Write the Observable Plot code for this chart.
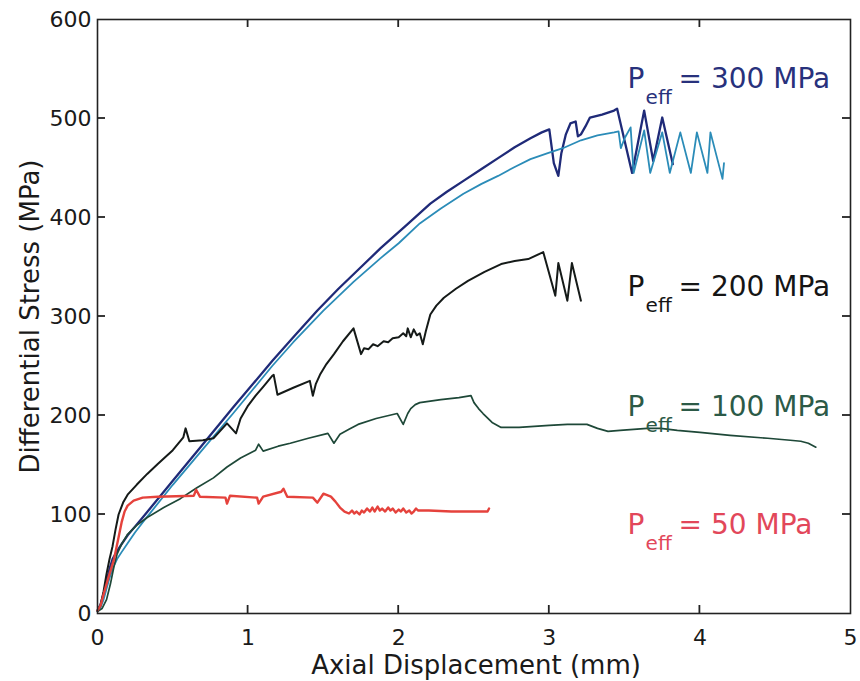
<!DOCTYPE html>
<html><head><meta charset="utf-8">
<script src="https://cdn.jsdelivr.net/npm/d3@7"></script>
<script src="https://cdn.jsdelivr.net/npm/@observablehq/plot@0.6"></script>
<style>body{margin:0;background:#fff}#chart{width:860px;height:681px}</style>
</head><body><div id="chart"></div>
<script>
// ---- data ----
// Peff = 300 MPa, first test (dark navy)
const p300aX = [0,0.02,0.04,0.06,0.08,0.1,0.13,0.16,0.2,0.25,0.3,0.5,0.7,0.9,1.16,1.3,1.46,1.6,1.75,1.88,2.05,2.21,2.32,2.43,2.55,2.66,2.77,2.875,2.95,3.0,3.03,3.06,3.08,3.11,3.14,3.175,3.19,3.21,3.24,3.27,3.35,3.43,3.45,3.55,3.63,3.69,3.75,3.82];
const p300aY = [3,9,20,32,45,55,63,70,79,88,97,134,171,208,255,279,306,328,350,369,392,414,426,437,449,460,471,480,486,489,455,442,465,484,495,497,482,484,492,501,504,508,510,445,508,457,501,454];
// Peff = 300 MPa, second test (teal)
const p300bX = [0,0.02,0.04,0.06,0.08,0.1,0.13,0.16,0.2,0.25,0.3,0.5,0.7,0.9,1.16,1.3,1.5,1.7,1.88,2.0,2.14,2.28,2.43,2.55,2.66,2.77,2.875,2.99,3.09,3.21,3.32,3.43,3.46,3.475,3.5,3.54,3.56,3.63,3.67,3.75,3.80,3.87,3.94,3.98,4.05,4.07,4.15,4.16];
const p300bY = [2,6,14,25,36,45,55,62,71,82,92,130,166,202,250,274,306,335,359,374,394,409,424,434,442,451,459,465,470,478,483,486,487,470,480,491,445,488,445,486,445,486,445,486,445,486,439,455];
// Peff = 200 MPa (black)
const p200X = [0,0.02,0.04,0.06,0.08,0.1,0.12,0.14,0.17,0.2,0.26,0.33,0.4,0.5,0.57,0.585,0.61,0.7,0.77,0.86,0.92,0.95,1.0,1.05,1.1,1.16,1.17,1.195,1.3,1.41,1.43,1.45,1.48,1.52,1.57,1.63,1.7,1.75,1.77,1.8,1.83,1.86,1.9,1.93,1.96,2.0,2.03,2.05,2.06,2.08,2.1,2.12,2.14,2.16,2.18,2.21,2.25,2.3,2.38,2.46,2.57,2.68,2.77,2.86,2.96,3.04,3.06,3.12,3.15,3.21];
const p200Y = [3,8,22,40,55,68,85,100,112,120,130,141,151,165,178,187,174,175,177,192,182,197,210,220,229,240,241,221,228,235,220,232,242,252,262,275,288,262,268,267,272,270,275,274,278,279,283,280,288,279,287,281,283,272,285,302,311,319,328,336,345,353,356,358,365,321,354,316,354,316];
// Peff = 100 MPa (dark green)
const p100X = [0,0.03,0.06,0.086,0.11,0.13,0.16,0.2,0.26,0.33,0.44,0.55,0.66,0.77,0.86,0.95,1.05,1.07,1.1,1.2,1.28,1.4,1.53,1.57,1.61,1.67,1.73,1.85,1.99,2.03,2.06,2.08,2.11,2.14,2.28,2.4,2.48,2.5,2.53,2.56,2.62,2.68,2.8,2.9,3.0,3.12,3.25,3.32,3.39,3.47,3.56,3.65,3.74,3.85,4.0,4.2,4.45,4.6,4.67,4.72,4.77];
const p100Y = [2,5,14,30,48,60,70,80,89,97,107,116,127,137,148,157,165,171,164,169,172,177,182,172,181,186,191,197,202,191,202,207,211,213,216,218,220,213,207,202,193,188,188,189,190,191,191,187,184,185,186,187,187,185,183,180,177,175,174,172,168];
// Peff = 50 MPa (red)
const p50X = [0,0.02,0.04,0.07,0.11,0.14,0.16,0.18,0.2,0.24,0.3,0.4,0.64,0.655,0.68,0.85,0.86,0.88,1.06,1.07,1.1,1.22,1.235,1.26,1.43,1.46,1.5,1.55,1.58,1.61,1.64,1.67,1.69,1.705,1.72,1.74,1.755,1.77,1.79,1.81,1.825,1.84,1.86,1.875,1.89,1.91,1.93,1.945,1.96,1.98,2.0,2.015,2.03,2.05,2.07,2.085,2.10,2.115,2.13,2.2,2.35,2.55,2.59,2.6];
const p50Y = [3,8,19,35,55,77,92,103,109,114,117,118,119,125,118,117,111,119,117,111,118,123,126,118,117,112,121,118,113,107,103,101,104,101,103,100,104,102,106,103,107,103,108,104,106,103,107,104,106,102,105,103,106,102,104,101,103,106,104,104,103,103,103,106];

const xTicks = [0,1,2,3,4,5];
const yTicks = [0,100,200,300,400,500,600];
const labelTexts = ["= 300 MPa","= 200 MPa","= 100 MPa","= 50 MPa"];
const labelSub = "eff";
const xTitle = "Axial Displacement (mm)";
const yTitle = "Differential Stress (MPa)";

// ---- build ----
const series = [
  {name:"300a", x:p300aX, y:p300aY},
  {name:"300b", x:p300bX, y:p300bY},
  {name:"200",  x:p200X,  y:p200Y},
  {name:"100",  x:p100X,  y:p100Y},
  {name:"50",   x:p50X,   y:p50Y}
];
const style = {
  "300a": {stroke:"#1f2a78", w:2.3},
  "300b": {stroke:"#2b8cb8", w:1.8},
  "200":  {stroke:"#151a18", w:2.0},
  "100":  {stroke:"#1e4838", w:1.7},
  "50":   {stroke:"#e5423c", w:2.4}
};
const rows = series.flatMap(s => s.x.map((x,i) => ({series:s.name, x, y:s.y[i]})));
const labels = [
  {text:labelTexts[0], color:"#28317c", y:531},
  {text:labelTexts[1], color:"#151515", y:321},
  {text:labelTexts[2], color:"#2c5a47", y:199},
  {text:labelTexts[3], color:"#e2475a", y:80}
];
const font = "DejaVu Sans";
const lineMarks = series.map(s => Plot.line(rows.filter(r => r.series === s.name), {
  x:"x", y:"y", stroke: style[s.name].stroke, strokeWidth: style[s.name].w, strokeLinejoin:"round", curve:"linear"
}));
const W = 860, H = 681, mL = 97, mR = 10, mT = 19, mB = 68, tk = 8;
const inner = (a) => a.slice(1, -1);
const labelX = 3.52;
const chart = Plot.plot({
  width: W, height: H,
  marginLeft: mL, marginRight: mR, marginTop: mT, marginBottom: mB,
  style: {fontFamily: font, background: "#fff", color: "#222"},
  x: {domain:[0,5]},
  y: {domain:[0,600]},
  marks: [
    ...lineMarks,
    Plot.frame({stroke:"#222", strokeWidth:1.6}),
    Plot.axisX(xTicks, {anchor:"bottom", tickSize:0, tickPadding:16, fontSize:22, label:null, tickFormat:d3.format("d"), fill:"#1a1a1a"}),
    Plot.axisY(yTicks, {anchor:"left", tickSize:0, tickPadding:6, fontSize:22, label:null, tickFormat:d3.format("d"), fill:"#1a1a1a"}),
    Plot.text([xTitle], {frameAnchor:"bottom", dx:2, dy:60, lineAnchor:"bottom", textAnchor:"middle", fontSize:26, fill:"#1a1a1a"}),
    Plot.text([yTitle], {frameAnchor:"left", rotate:-90, dx:-59, lineAnchor:"bottom", textAnchor:"middle", fontSize:26, fill:"#1a1a1a"}),
    Plot.text(labels, {x:() => labelX, y:"y", text:() => "P", fill:"color", fontSize:28, textAnchor:"start", lineAnchor:"bottom"}),
    Plot.text(labels, {x:() => labelX, y:"y", text:() => labelSub, fill:"color", fontSize:20, textAnchor:"start", lineAnchor:"bottom", dx:18, dy:16}),
    Plot.text(labels, {x:() => labelX, y:"y", text:"text", fill:"color", fontSize:28, textAnchor:"start", lineAnchor:"bottom", dx:51})
  ]
});
// inward ticks on all four sides, positioned with the plot's own scales
const sx = chart.scale("x"), sy = chart.scale("y");
const g = d3.select(chart).append("g").attr("stroke", "#222").attr("stroke-width", 1.8);
for (const v of inner(xTicks)) {
  const px = sx.apply(v);
  g.append("line").attr("x1", px).attr("x2", px).attr("y1", H - mB).attr("y2", H - mB - tk);
  g.append("line").attr("x1", px).attr("x2", px).attr("y1", mT).attr("y2", mT + tk);
}
for (const v of inner(yTicks)) {
  const py = sy.apply(v);
  g.append("line").attr("y1", py).attr("y2", py).attr("x1", mL).attr("x2", mL + tk);
  g.append("line").attr("y1", py).attr("y2", py).attr("x1", W - mR).attr("x2", W - mR - tk);
}
document.getElementById("chart").append(chart);
</script>
</body></html>
